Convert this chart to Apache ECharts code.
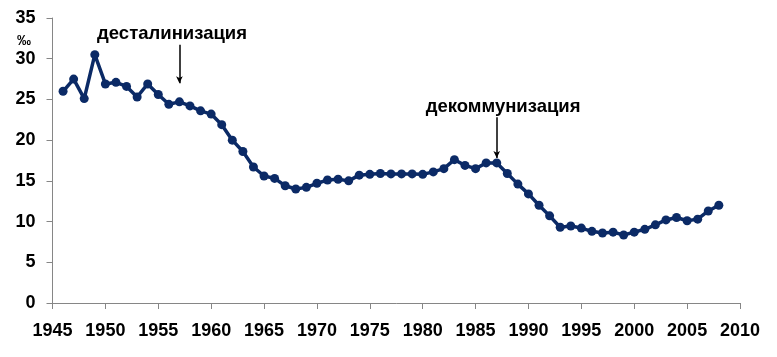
<!DOCTYPE html>
<html>
<head>
<meta charset="utf-8">
<script src="https://cdn.jsdelivr.net/npm/echarts@6/dist/echarts.min.js"></script>
<style>html,body{margin:0;padding:0;background:#fff;}#c{width:777px;height:357px;}</style>
</head>
<body>
<div id="c"></div>
<script>
const years = [1946,1947,1948,1949,1950,1951,1952,1953,1954,1955,1956,1957,1958,1959,1960,1961,1962,1963,1964,1965,1966,1967,1968,1969,1970,1971,1972,1973,1974,1975,1976,1977,1978,1979,1980,1981,1982,1983,1984,1985,1986,1987,1988,1989,1990,1991,1992,1993,1994,1995,1996,1997,1998,1999,2000,2001,2002,2003,2004,2005,2006,2007,2008];
const rates = [26.0,27.5,25.1,30.5,26.9,27.1,26.6,25.3,26.9,25.6,24.4,24.7,24.2,23.6,23.2,21.9,20.0,18.6,16.7,15.6,15.3,14.4,14.0,14.2,14.7,15.1,15.2,15.0,15.7,15.8,15.9,15.85,15.85,15.85,15.8,16.1,16.5,17.6,16.9,16.5,17.2,17.2,15.9,14.6,13.4,12.0,10.7,9.3,9.45,9.2,8.8,8.6,8.7,8.35,8.7,9.05,9.6,10.2,10.5,10.1,10.3,11.3,12.0];
const yUnit = '‰';
const annotations = [
  {text: 'десталинизация', year: 1957, labelYear: 1956.3, labelValue: 33.1, arrowFrom: 31.7, arrowTo: 27.0},
  {text: 'декоммунизация', year: 1987, labelYear: 1987.6, labelValue: 24.1, arrowFrom: 22.8, arrowTo: 17.8}
];

const chart = echarts.init(document.getElementById('c'));
const font = 'Liberation Sans, Arial, sans-serif';
chart.setOption({
  animation: false,
  grid: {left: 52.5, right: 37, top: 18, bottom: 54, containLabel: false},
  xAxis: {
    type: 'value', min: 1945, max: 2010, interval: 5,
    axisLine: {show: true, lineStyle: {color: '#868686', width: 1}},
    axisTick: {show: true, length: 6, lineStyle: {color: '#868686'}},
    splitLine: {show: false},
    axisLabel: {color: '#000', fontFamily: font, fontWeight: 'bold', fontSize: 18, margin: 19, formatter: v => String(v)}
  },
  yAxis: {
    type: 'value', min: 0, max: 35, interval: 5,
    axisLine: {show: true, lineStyle: {color: '#868686', width: 1}},
    axisTick: {show: true, length: 6, lineStyle: {color: '#868686'}},
    splitLine: {show: false},
    axisLabel: {color: '#000', fontFamily: font, fontWeight: 'bold', fontSize: 18, margin: 17}
  },
  series: [{
    type: 'line',
    data: years.map((y, i) => [y, rates[i]]),
    symbol: 'circle', symbolSize: 9,
    lineStyle: {color: '#0b2a66', width: 3.5},
    itemStyle: {color: '#0b2a66'},
    markLine: {
      silent: true,
      symbol: ['none', 'arrow'], symbolSize: [5, 7],
      lineStyle: {color: '#000', width: 1.5, type: 'solid'},
      label: {show: false},
      data: annotations.map(a => [{coord: [a.year, a.arrowFrom]}, {coord: [a.year, a.arrowTo]}])
    }
  }]
});

const g = [{
  type: 'text', left: 17, top: 34,
  style: {text: yUnit, font: 'bold 14px ' + font, fill: '#000'}
}];
annotations.forEach(a => {
  const p = chart.convertToPixel({gridIndex: 0}, [a.labelYear, a.labelValue]);
  g.push({
    type: 'text', x: p[0], y: p[1],
    style: {text: a.text, font: 'bold 18.5px ' + font, fill: '#000', align: 'center', verticalAlign: 'middle'}
  });
});
chart.setOption({graphic: g});
</script>
</body>
</html>
